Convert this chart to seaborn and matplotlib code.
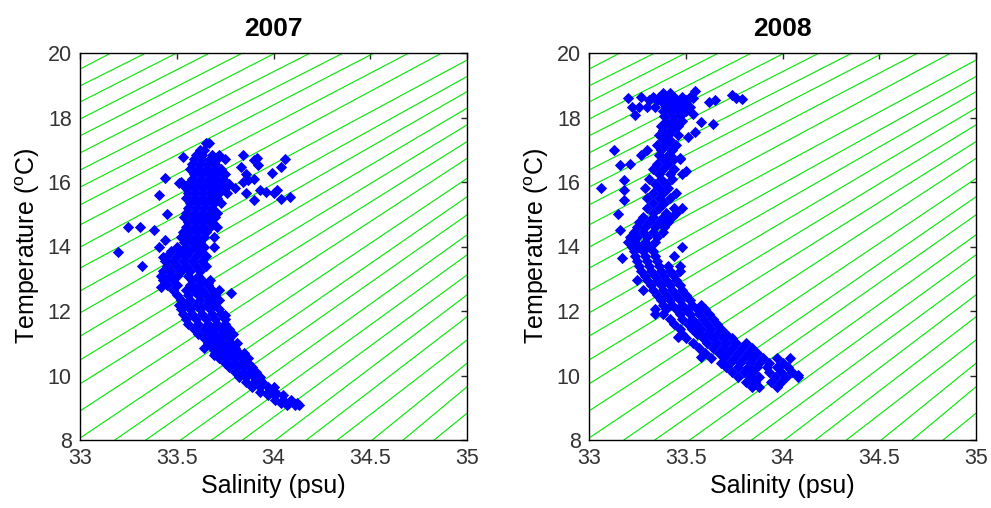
import numpy as np
import pandas as pd
import matplotlib.pyplot as plt
import seaborn as sns

# isopycnals: where each green line enters and leaves the box
iso_s_start = [33.0] * 19 + [33.18, 33.34, 33.52, 33.68, 33.84, 34.01, 34.17, 34.33, 34.51, 34.67, 34.83]
iso_t_start = [19.50, 18.98, 18.48, 17.95, 17.43, 16.90, 16.37, 15.84, 15.29, 14.67, 13.98,
               13.33, 12.62, 11.94, 11.22, 10.48, 9.74, 8.90, 8.06] + [8.0] * 11
iso_s_end = [33.16, 33.34, 33.50, 33.67, 33.84, 34.01, 34.19, 34.36, 34.52, 34.70, 34.87] + [35.0] * 19
iso_t_end = [20.0] * 11 + [19.78, 19.27, 18.80, 18.29, 17.77, 17.25, 16.73, 16.11,
                           15.54, 14.98, 14.36, 13.74, 13.12, 12.50, 11.82, 11.10, 10.38, 9.65, 8.83]

# 2007 profile points: dense core by temperature row, then stray casts
core_t_2007 = [17.0, 16.85, 16.7, 16.55, 16.4, 16.25, 16.1, 15.95, 15.8, 15.65, 15.5, 15.35, 15.2,
               15.05, 14.9, 14.75, 14.6, 14.45, 14.3, 14.15, 14.0, 13.85, 13.7, 13.55, 13.4, 13.25,
               13.1, 12.95, 12.8, 12.65, 12.5, 12.35, 12.2, 12.05, 11.9, 11.75, 11.6, 11.45, 11.3,
               11.15, 11.0, 10.85, 10.7, 10.55, 10.4, 10.25, 10.1, 9.95, 9.8, 9.65, 9.5, 9.38,
               9.25, 9.15, 9.08]
core_s_2007 = [
    [33.62, 33.64],
    [33.60, 33.63, 33.68, 33.72],
    [33.59, 33.63, 33.67, 33.71, 33.75],
    [33.58, 33.62, 33.66, 33.70],
    [33.57, 33.61, 33.65, 33.69, 33.73],
    [33.59, 33.63, 33.67, 33.71, 33.75],
    [33.58, 33.62, 33.66, 33.70, 33.74],
    [33.56, 33.60, 33.64, 33.68, 33.72, 33.77],
    [33.55, 33.59, 33.63, 33.67, 33.71, 33.75, 33.80],
    [33.56, 33.60, 33.64, 33.68, 33.72, 33.76],
    [33.55, 33.59, 33.63, 33.67, 33.71],
    [33.57, 33.61, 33.65, 33.69, 33.73],
    [33.56, 33.60, 33.64, 33.68],
    [33.55, 33.59, 33.63, 33.67, 33.71],
    [33.54, 33.58, 33.62, 33.66, 33.70],
    [33.56, 33.60, 33.64, 33.68],
    [33.55, 33.59, 33.63, 33.67, 33.71],
    [33.53, 33.57, 33.61, 33.65],
    [33.52, 33.56, 33.60, 33.64, 33.69],
    [33.54, 33.58, 33.62],
    [33.50, 33.55, 33.60, 33.64, 33.69],
    [33.47, 33.52, 33.57, 33.62],
    [33.45, 33.50, 33.55, 33.60, 33.65],
    [33.44, 33.48, 33.53, 33.58, 33.63],
    [33.45, 33.50, 33.55, 33.60, 33.65],
    [33.43, 33.47, 33.52, 33.57, 33.62],
    [33.42, 33.46, 33.50, 33.56, 33.61],
    [33.43, 33.48, 33.58, 33.63, 33.67],
    [33.45, 33.50, 33.57, 33.61, 33.66],
    [33.48, 33.55, 33.59, 33.63, 33.68, 33.72],
    [33.50, 33.56, 33.61, 33.65, 33.70],
    [33.52, 33.57, 33.62, 33.67, 33.72],
    [33.51, 33.55, 33.60, 33.65, 33.70],
    [33.52, 33.57, 33.62, 33.67, 33.72],
    [33.53, 33.58, 33.63, 33.68, 33.73],
    [33.55, 33.60, 33.65, 33.70, 33.75],
    [33.56, 33.61, 33.66, 33.71, 33.75],
    [33.59, 33.64, 33.68, 33.73, 33.77],
    [33.61, 33.66, 33.70, 33.75, 33.79],
    [33.64, 33.68, 33.72, 33.77],
    [33.66, 33.70, 33.74, 33.78, 33.81],
    [33.68, 33.72, 33.76, 33.80],
    [33.70, 33.74, 33.78, 33.82, 33.85],
    [33.72, 33.76, 33.80, 33.84, 33.87],
    [33.75, 33.79, 33.83, 33.87],
    [33.77, 33.81, 33.85, 33.89],
    [33.80, 33.84, 33.88, 33.91],
    [33.82, 33.86, 33.90, 33.93],
    [33.86, 33.90, 33.94],
    [33.89, 33.93, 33.97, 34.00],
    [33.93, 33.97, 34.01],
    [33.97, 34.01, 34.05],
    [34.01, 34.05, 34.09],
    [34.04, 34.08, 34.12],
    [34.07, 34.11, 34.13],
]
stray_s_2007 = [33.651, 33.665, 33.534, 33.844, 33.913, 33.99, 33.44, 33.51, 33.41, 33.25, 33.31,
                33.38, 34.06, 34.04, 34.085, 34.04, 34.00, 34.02, 33.96, 33.93, 33.90, 33.86,
                33.84, 33.87, 33.90, 33.83, 33.90, 33.92, 33.86, 33.198, 33.32, 33.45, 33.41,
                33.43, 33.52, 33.78, 33.64, 33.69, 33.66, 33.75, 33.44, 33.42]
stray_t_2007 = [17.20, 17.22, 16.78, 16.84, 16.73, 16.29, 16.13, 15.98, 15.60, 14.61, 14.61,
                14.51, 16.70, 16.46, 15.54, 15.46, 15.65, 15.75, 15.70, 15.75, 15.45, 15.65,
                16.00, 16.05, 16.10, 16.45, 16.68, 16.53, 16.26, 13.82, 13.40, 15.00, 13.98,
                13.68, 16.00, 12.55, 10.84, 10.63, 12.86, 11.87, 14.20, 12.75]

# 2008 profile points
core_t_2008 = [18.75, 18.65, 18.55, 18.45, 18.33, 18.2, 18.05, 17.9, 17.75, 17.6, 17.45, 17.3,
               17.15, 17.0, 16.85, 16.7, 16.55, 16.4, 16.25, 16.1, 15.95, 15.8, 15.65, 15.5,
               15.35, 15.2, 15.05, 14.9, 14.75, 14.6, 14.45, 14.3, 14.15, 14.0, 13.85, 13.7,
               13.55, 13.4, 13.25, 13.1, 12.95, 12.8, 12.65, 12.5, 12.35, 12.2, 12.05, 11.9,
               11.75, 11.6, 11.45, 11.3, 11.15, 11.0, 10.85, 10.7, 10.55, 10.4, 10.25, 10.1,
               9.95, 9.8, 9.65]
core_s_2008 = [
    [33.38, 33.42],
    [33.27, 33.33, 33.36, 33.40, 33.44, 33.48, 33.52],
    [33.31, 33.35, 33.39, 33.43, 33.47, 33.50],
    [33.38, 33.42, 33.46, 33.50],
    [33.22, 33.26, 33.30, 33.34, 33.40, 33.44, 33.48, 33.52],
    [33.38, 33.42, 33.46, 33.50],
    [33.39, 33.43, 33.47],
    [33.40, 33.44, 33.48],
    [33.37, 33.42, 33.46],
    [33.38, 33.43],
    [33.36, 33.41, 33.46],
    [33.38, 33.42],
    [33.35, 33.40, 33.45],
    [33.30, 33.37, 33.43],
    [33.27, 33.36, 33.41],
    [33.38, 33.44, 33.47],
    [33.35, 33.41],
    [33.33, 33.38, 33.44],
    [33.36, 33.42, 33.48],
    [33.31, 33.37, 33.43],
    [33.34, 33.40],
    [33.29, 33.36, 33.41],
    [33.33, 33.38, 33.45],
    [33.30, 33.36, 33.42],
    [33.33, 33.39],
    [33.30, 33.36, 33.44],
    [33.33, 33.40, 33.45],
    [33.28, 33.33, 33.38, 33.43],
    [33.26, 33.31, 33.36, 33.41],
    [33.25, 33.29, 33.34, 33.39],
    [33.23, 33.28, 33.33, 33.38],
    [33.21, 33.25, 33.30, 33.35],
    [33.20, 33.24, 33.29, 33.34],
    [33.22, 33.26, 33.31, 33.48],
    [33.23, 33.28, 33.33],
    [33.24, 33.29, 33.34, 33.44],
    [33.25, 33.30, 33.35],
    [33.26, 33.31, 33.36, 33.41, 33.47],
    [33.27, 33.32, 33.37, 33.42, 33.47],
    [33.29, 33.34, 33.39, 33.44],
    [33.25, 33.30, 33.35, 33.40, 33.45],
    [33.32, 33.37, 33.42, 33.47],
    [33.28, 33.33, 33.38, 33.43, 33.48],
    [33.35, 33.40, 33.45, 33.50],
    [33.37, 33.42, 33.47, 33.52],
    [33.38, 33.43, 33.48, 33.53, 33.58],
    [33.34, 33.40, 33.45, 33.50, 33.56, 33.60],
    [33.34, 33.38, 33.47, 33.52, 33.57, 33.62],
    [33.42, 33.48, 33.53, 33.59, 33.64],
    [33.44, 33.51, 33.56, 33.61, 33.66],
    [33.47, 33.53, 33.58, 33.63, 33.68],
    [33.48, 33.56, 33.61, 33.66, 33.71],
    [33.50, 33.59, 33.64, 33.69, 33.74],
    [33.54, 33.61, 33.66, 33.71, 33.76, 33.81],
    [33.57, 33.64, 33.69, 33.74, 33.79, 33.84],
    [33.60, 33.67, 33.72, 33.77, 33.82, 33.87],
    [33.63, 33.70, 33.75, 33.80, 33.85, 33.90, 33.97],
    [33.68, 33.73, 33.78, 33.83, 33.88, 33.93, 34.00],
    [33.71, 33.77, 33.82, 33.87, 33.92, 33.97, 34.03],
    [33.74, 33.80, 33.85, 33.93, 33.99, 34.05],
    [33.77, 33.83, 33.88, 33.96, 34.02, 34.08],
    [33.81, 33.86, 33.94, 33.99],
    [33.84, 33.88, 33.97],
]
stray_s_2008 = [33.55, 33.54, 33.62, 33.65, 33.74, 33.76, 33.79, 33.58, 33.64, 33.55, 33.51,
                33.54, 33.20, 33.24, 33.06, 33.13, 33.15, 33.16, 33.17, 33.18, 33.16, 33.21,
                33.18, 33.18, 33.47, 33.50, 33.48, 34.04, 34.08, 33.46, 33.58]
stray_t_2008 = [18.83, 18.60, 18.49, 18.54, 18.69, 18.59, 18.56, 17.87, 17.81, 17.56, 17.40,
                18.10, 18.60, 18.07, 15.80, 16.99, 15.02, 14.50, 13.63, 16.06, 16.52, 16.57,
                15.45, 15.75, 16.75, 16.35, 15.20, 10.53, 10.02, 11.20, 10.58]


def expand(rows_t, rows_s, stray_s, stray_t):
    s = [v for row in rows_s for v in row] + stray_s
    t = [tt for tt, row in zip(rows_t, rows_s) for _ in row] + stray_t
    return pd.DataFrame({"S": s, "T": t})


iso_df = pd.DataFrame({
    "line": list(range(len(iso_s_start))) * 2,
    "S": iso_s_start + iso_s_end,
    "T": iso_t_start + iso_t_end,
})

panels = [
    ("2007", expand(core_t_2007, core_s_2007, stray_s_2007, stray_t_2007)),
    ("2008", expand(core_t_2008, core_s_2008, stray_s_2008, stray_t_2008)),
]

sns.set_style("white")
plt.rcParams["font.family"] = ["Liberation Sans", "DejaVu Sans"]
plt.rcParams["mathtext.fontset"] = "custom"
plt.rcParams["mathtext.rm"] = "Liberation Sans"
plt.rcParams["text.color"] = "black"
plt.rcParams["axes.labelcolor"] = "black"

fig = plt.figure(figsize=(9.91, 5.08), dpi=100)
lefts = [80 / 991, 589 / 991]
for left, (year, df) in zip(lefts, panels):
    ax = fig.add_axes([left, 68 / 508, 387 / 991, 387 / 508])
    sns.lineplot(data=iso_df, x="S", y="T", units="line", estimator=None, sort=False,
                 color="#00e600", lw=0.8, ax=ax, legend=False)
    sns.scatterplot(data=df, x="S", y="T", marker="D", color="#0000ff", s=33,
                    linewidth=0, ax=ax, legend=False, zorder=3)
    ax.set_xlim(33, 35)
    ax.set_ylim(8, 20)
    ax.set_xticks([33, 33.5, 34, 34.5, 35])
    ax.set_xticklabels(["33", "33.5", "34", "34.5", "35"])
    ax.set_yticks(range(8, 21, 2))
    ax.tick_params(direction="in", length=4, width=1, top=True, right=True,
                   labelsize=15.5, labelcolor="#333333", pad=6)
    for sp in ax.spines.values():
        sp.set_color("black")
        sp.set_linewidth(1.0)
    ax.set_title(year, fontsize=19, fontweight="bold", pad=12)
    ax.set_xlabel("Salinity (psu)", fontsize=18, labelpad=3)
    ax.set_ylabel(r"Temperature ($^{\mathrm{o}}$C)", fontsize=18, labelpad=4)

fig.savefig("out.png", dpi=100)
